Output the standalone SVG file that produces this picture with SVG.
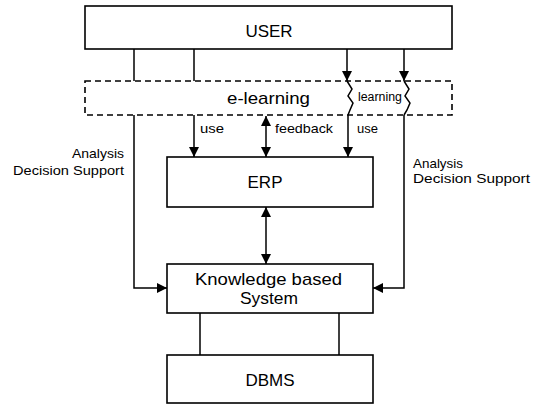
<svg xmlns="http://www.w3.org/2000/svg" width="538" height="405" viewBox="0 0 538 405">
<defs>
<marker id="ah" viewBox="0 0 10 10" refX="10" refY="5" markerWidth="10" markerHeight="10" markerUnits="userSpaceOnUse" orient="auto-start-reverse">
<path d="M0,0 L10,5 L0,10 Z" fill="#000"/>
</marker>
<style>
.box{fill:#fff;stroke:#000;stroke-width:1.6}
.dash{fill:none;stroke:#000;stroke-width:1.6;stroke-dasharray:6 4}
.ln{fill:none;stroke:#000;stroke-width:1.5}
.t{font-family:"Liberation Sans",Arial,sans-serif;fill:#000}
.big{font-size:17px}
.sm{font-size:13px}
</style>
</defs>
<rect width="538" height="405" fill="#fff"/>
<g id="connectors">
<line class="ln" x1="134" y1="49" x2="134" y2="81"/>
<line class="ln" x1="194" y1="49" x2="194" y2="81"/>
<line class="ln" x1="347" y1="49" x2="347" y2="81" marker-end="url(#ah)"/>
<line class="ln" x1="404" y1="49" x2="404" y2="81" marker-end="url(#ah)"/>
<polyline class="ln" points="347,81 352,89 348,96 353,103 350,110 348,115"/>
<polyline class="ln" points="404,81 409,89 405,96 410,103 407,110 404,115"/>
<polyline class="ln" points="134,115 134,288 167,288" marker-end="url(#ah)"/>
<polyline class="ln" points="404,115 404,288 373,288" marker-end="url(#ah)"/>
<line class="ln" x1="194" y1="115" x2="194" y2="157" marker-end="url(#ah)"/>
<line class="ln" x1="348" y1="115" x2="348" y2="157" marker-end="url(#ah)"/>
<line class="ln" x1="266" y1="116" x2="266" y2="157" marker-start="url(#ah)" marker-end="url(#ah)"/>
<line class="ln" x1="266" y1="207" x2="266" y2="264" marker-start="url(#ah)" marker-end="url(#ah)"/>
<line class="ln" x1="200" y1="313" x2="200" y2="355"/>
<line class="ln" x1="339" y1="313" x2="339" y2="355"/>
<text class="t sm" x="200" y="133" textLength="24" lengthAdjust="spacingAndGlyphs">use</text>
<text class="t sm" x="275" y="133" textLength="58" lengthAdjust="spacingAndGlyphs">feedback</text>
<text class="t sm" x="357" y="133" textLength="21" lengthAdjust="spacingAndGlyphs">use</text>
<text class="t" font-size="12" x="358" y="101" textLength="44" lengthAdjust="spacingAndGlyphs">learning</text>
<text class="t sm" x="72" y="158" textLength="52" lengthAdjust="spacingAndGlyphs">Analysis</text>
<text class="t sm" x="13" y="175" textLength="111" lengthAdjust="spacingAndGlyphs">Decision Support</text>
<text class="t sm" x="413" y="168" textLength="50" lengthAdjust="spacingAndGlyphs">Analysis</text>
<text class="t sm" x="413" y="183" textLength="117" lengthAdjust="spacingAndGlyphs">Decision Support</text>
</g>
<g id="user">
<rect class="box" x="85" y="6" width="367" height="43"/>
<text class="t big" x="269" y="37" text-anchor="middle">USER</text>
</g>
<g id="elearning">
<rect class="dash" x="85" y="81" width="367" height="34"/>
<text class="t big" x="227" y="104" textLength="83" lengthAdjust="spacingAndGlyphs">e-learning</text>
</g>
<g id="erp">
<rect class="box" x="167" y="157" width="206" height="50"/>
<text class="t big" x="265" y="188" text-anchor="middle">ERP</text>
</g>
<g id="kbs">
<rect class="box" x="167" y="264" width="206" height="49"/>
<text class="t big" x="195" y="285" textLength="147" lengthAdjust="spacingAndGlyphs">Knowledge based</text>
<text class="t big" x="240" y="304" textLength="58" lengthAdjust="spacingAndGlyphs">System</text>
</g>
<g id="dbms">
<rect class="box" x="167" y="355" width="206" height="48"/>
<text class="t big" x="270" y="386" text-anchor="middle">DBMS</text>
</g>
</svg>
